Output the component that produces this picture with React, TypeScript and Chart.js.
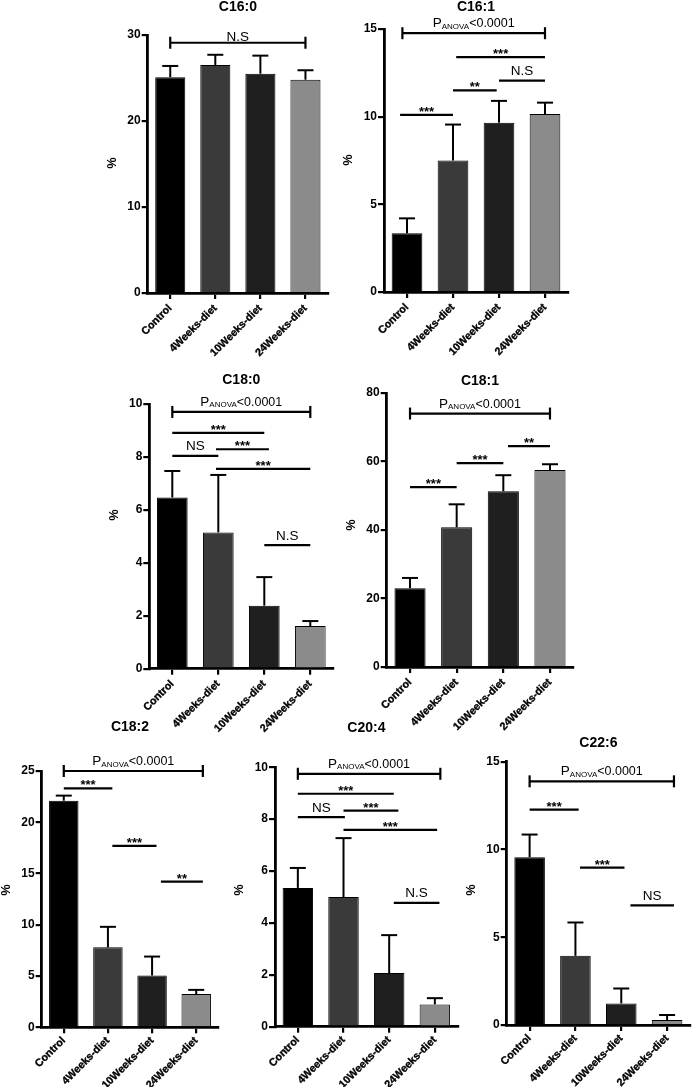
import React, { useEffect, useRef } from 'react';
import { Chart, registerables } from 'chart.js';
Chart.register(...registerables);

const categories = ['Control', '4Weeks-diet', '10Weeks-diet', '24Weeks-diet'];
const barColors = ['#000000', '#3a3a3a', '#1f1f1f', '#8b8b8b'];

const c160Mean = [25.1, 26.5, 25.5, 24.8];
const c160Sd = [1.3, 1.2, 2.1, 1.1];
const c161Mean = [3.35, 7.5, 9.65, 10.15];
const c161Sd = [0.85, 2.05, 1.25, 0.65];
const c180Mean = [6.47, 5.15, 2.38, 1.61];
const c180Sd = [1.0, 2.17, 1.08, 0.19];
const c181Mean = [23, 40.8, 51.3, 57.5];
const c181Sd = [3.0, 6.7, 4.7, 1.7];
const c182Mean = [22.1, 7.8, 5.05, 3.25];
const c182Sd = [0.5, 2.0, 1.85, 0.4];
const c204Mean = [5.35, 5.0, 2.07, 0.86];
const c204Sd = [0.77, 2.27, 1.46, 0.24];
const c226Mean = [9.56, 3.94, 1.23, 0.28];
const c226Sd = [1.29, 1.9, 0.85, 0.29];

const c160Brackets = [{ from: 0, to: 3, y: 29.1, label: 'N.S', kind: 'ns', caps: true, lift: 1.5 }];
const c161Brackets = [
  { from: -0.1, to: 3, y: 14.76, label: '<0.0001', kind: 'anova', caps: true },
  { from: -0.15, to: 1, y: 10.1, label: '***', kind: 'star' },
  { from: 1, to: 1.95, y: 11.5, label: '**', kind: 'star' },
  { from: 1.07, to: 3, y: 13.4, label: '***', kind: 'star' },
  { from: 2, to: 3, y: 12.05, label: 'N.S', kind: 'ns' },
];
const c180Brackets = [
  { from: 0, to: 3, y: 9.7, label: '<0.0001', kind: 'anova', caps: true },
  { from: 0, to: 2, y: 8.91, label: '***', kind: 'star' },
  { from: 0, to: 1, y: 8.04, label: 'NS', kind: 'ns' },
  { from: 0.95, to: 2.1, y: 8.29, label: '***', kind: 'star' },
  { from: 0.95, to: 3, y: 7.55, label: '***', kind: 'star' },
  { from: 2, to: 3, y: 4.67, label: 'N.S', kind: 'ns' },
];
const c181Brackets = [
  { from: 0, to: 3, y: 74, label: '<0.0001', kind: 'anova', caps: true },
  { from: 0, to: 1, y: 52.5, label: '***', kind: 'star' },
  { from: 1, to: 2, y: 59.5, label: '***', kind: 'star' },
  { from: 2.1, to: 3, y: 64.5, label: '**', kind: 'star' },
];
const c182Brackets = [
  { from: 0, to: 3.15, y: 25, label: '<0.0001', kind: 'anova', caps: true },
  { from: 0, to: 1.1, y: 23.3, label: '***', kind: 'star' },
  { from: 1.1, to: 2.1, y: 17.7, label: '***', kind: 'star' },
  { from: 2.2, to: 3.15, y: 14.2, label: '**', kind: 'star' },
];
const c204Brackets = [
  { from: 0, to: 3.12, y: 9.75, label: '<0.0001', kind: 'anova', caps: true },
  { from: 0, to: 2.1, y: 8.98, label: '***', kind: 'star' },
  { from: 0, to: 1.03, y: 8.08, label: 'NS', kind: 'ns' },
  { from: 1, to: 2.2, y: 8.33, label: '***', kind: 'star' },
  { from: 1, to: 3.05, y: 7.59, label: '***', kind: 'star' },
  { from: 2.1, to: 3.1, y: 4.77, label: 'N.S', kind: 'ns' },
];
const c226Brackets = [
  { from: 0, to: 3.15, y: 13.88, label: '<0.0001', kind: 'anova', caps: true },
  { from: 0, to: 1.07, y: 12.27, label: '***', kind: 'star' },
  { from: 1.1, to: 2.07, y: 8.96, label: '***', kind: 'star' },
  { from: 2.2, to: 3.15, y: 6.82, label: 'NS', kind: 'ns' },
];

const FONT = "'Liberation Sans', Arial, Helvetica, sans-serif";

const panels = [
  { title: 'C16:0', mean: c160Mean, sd: c160Sd, yMax: 30, step: 10, brackets: c160Brackets,
    box: { left: 95, top: 0, width: 240, height: 365, yw: 52.7, pt: 35, pr: 7, xh: 72, tp: 3 }, titleY: 7, pctY: 163 },
  { title: 'C16:1', mean: c161Mean, sd: c161Sd, yMax: 15, step: 5, brackets: c161Brackets,
    box: { left: 335, top: 0, width: 240, height: 365, yw: 49, pt: 29, pr: 7, xh: 73, tp: 3 }, titleY: 7, pctY: 160 },
  { title: 'C18:0', mean: c180Mean, sd: c180Sd, yMax: 10, step: 2, brackets: c180Brackets,
    box: { left: 95, top: 365, width: 245, height: 370, yw: 54.3, pt: 39, pr: 6.7, xh: 66.3, tp: 3 }, titleY: 380, pctY: 515 },
  { title: 'C18:1', mean: c181Mean, sd: c181Sd, yMax: 80, step: 20, brackets: c181Brackets,
    box: { left: 340, top: 365, width: 240, height: 370, yw: 46.7, pt: 28, pr: 6.7, xh: 68, tp: 3 }, titleY: 381, pctY: 525 },
  { title: 'C18:2', mean: c182Mean, sd: c182Sd, yMax: 25, step: 5, brackets: c182Brackets,
    box: { left: 0, top: 715, width: 228, height: 372, yw: 41.7, pt: 56, pr: 9.7, xh: 59.7, tp: 1 }, titleY: 727, pctY: 890 },
  { title: 'C20:4', mean: c204Mean, sd: c204Sd, yMax: 10, step: 2, brackets: c204Brackets,
    box: { left: 230, top: 715, width: 235, height: 372, yw: 45, pt: 52.3, pr: 7.3, xh: 60.3, tp: 1 }, titleY: 728, pctY: 890 },
  { title: 'C22:6', mean: c226Mean, sd: c226Sd, yMax: 15, step: 5, brackets: c226Brackets,
    box: { left: 462, top: 715, width: 230, height: 372, yw: 44.7, pt: 46.7, pr: 2, xh: 62, tp: 1 }, titleY: 743, pctY: 890 },
];

function line(ctx: CanvasRenderingContext2D, x1: number, y1: number, x2: number, y2: number) {
  ctx.beginPath();
  ctx.moveTo(x1, y1);
  ctx.lineTo(x2, y2);
  ctx.stroke();
}

function makePlugin(p: any) {
  return {
    id: 'annot',
    afterDraw(chart: any) {
      const ctx: CanvasRenderingContext2D = chart.ctx;
      const xs = chart.scales.x;
      const ys = chart.scales.y;
      const area = chart.chartArea;
      ctx.save();
      ctx.strokeStyle = '#000';
      ctx.fillStyle = '#000';
      ctx.lineWidth = 2;
      ctx.lineCap = 'butt';
      // error bars
      p.mean.forEach((m: number, i: number) => {
        const x = xs.getPixelForValue(i);
        const y0 = ys.getPixelForValue(m);
        const y1 = ys.getPixelForValue(m + p.sd[i]);
        line(ctx, x, y0, x, y1);
        line(ctx, x - 8, y1, x + 8, y1);
      });
      // brackets
      p.brackets.forEach((b: any) => {
        const x1 = xs.getPixelForValue(b.from);
        const x2 = xs.getPixelForValue(b.to);
        const y = ys.getPixelForValue(b.y);
        const cx = (x1 + x2) / 2;
        ctx.lineWidth = 2.2;
        line(ctx, x1, y, x2, y);
        if (b.caps) {
          line(ctx, x1, y - 6, x1, y + 6);
          line(ctx, x2, y - 6, x2, y + 6);
        }
        ctx.textBaseline = 'alphabetic';
        if (b.kind === 'star') {
          ctx.font = `bold 13px ${FONT}`;
          ctx.textAlign = 'center';
          ctx.fillText(b.label, cx, y + 1);
        } else if (b.kind === 'ns') {
          ctx.font = `13.5px ${FONT}`;
          ctx.textAlign = 'center';
          ctx.fillText(b.label, cx, y - (b.lift !== undefined ? b.lift : 5.5));
        } else if (b.kind === 'anova') {
          ctx.textAlign = 'left';
          const fP = `13.5px ${FONT}`;
          const fS = `8px ${FONT}`;
          const fR = `12.5px ${FONT}`;
          ctx.font = fP; const wP = ctx.measureText('P').width;
          ctx.font = fS; const wS = ctx.measureText('ANOVA').width;
          ctx.font = fR; const wR = ctx.measureText(b.label).width;
          let x = cx - (wP + wS + wR) / 2;
          const base = y - 6;
          ctx.font = fP; ctx.fillText('P', x, base); x += wP;
          ctx.font = fS; ctx.fillText('ANOVA', x, base + 1.5); x += wS;
          ctx.font = fR; ctx.fillText(b.label, x, base);
        }
      });
      // title
      const top = p.box.top;
      ctx.font = `bold 14px ${FONT}`;
      ctx.textAlign = 'center';
      ctx.textBaseline = 'middle';
      ctx.fillText(p.title, (area.left + area.right) / 2, p.titleY - top);
      // y label
      ctx.save();
      ctx.translate(area.left - 35, p.pctY - top);
      ctx.rotate(-Math.PI / 2);
      ctx.font = `bold 12.5px ${FONT}`;
      ctx.textAlign = 'center';
      ctx.textBaseline = 'middle';
      ctx.fillText('%', 0, 0);
      ctx.restore();
      ctx.restore();
    },
  };
}

function Panel({ p }: { p: any }) {
  const ref = useRef<HTMLCanvasElement | null>(null);
  useEffect(() => {
    const b = p.box;
    const chart = new Chart(ref.current as HTMLCanvasElement, {
      type: 'bar',
      data: {
        labels: categories,
        datasets: [
          {
            data: p.mean,
            backgroundColor: barColors,
            borderColor: '#000',
            borderWidth: 1,
            barPercentage: 0.667,
            categoryPercentage: 1,
          },
        ],
      },
      options: {
        animation: false,
        responsive: false,
        devicePixelRatio: 1,
        layout: { padding: { top: b.pt, right: b.pr, left: 0, bottom: 0 } },
        plugins: { legend: { display: false }, tooltip: { enabled: false }, title: { display: false } },
        scales: {
          x: {
            grid: { display: true, drawOnChartArea: false, drawTicks: true, tickLength: 6, color: '#000', lineWidth: 2.2, offset: false },
            border: { display: true, color: '#000', width: 2.8 },
            ticks: {
              color: '#000',
              font: { family: FONT, size: 10.7, weight: 'bold' },
              textStrokeColor: '#000',
              textStrokeWidth: 0.35,
              minRotation: 45,
              maxRotation: 45,
              autoSkip: false,
              padding: b.tp,
            },
            afterFit: (s: any) => { s.height = b.xh; },
          },
          y: {
            min: 0,
            max: p.yMax,
            grid: { display: true, drawOnChartArea: false, drawTicks: true, tickLength: 6, color: '#000', lineWidth: 2.2 },
            border: { display: true, color: '#000', width: 2.8 },
            ticks: {
              stepSize: p.step,
              color: '#000',
              font: { family: FONT, size: 12, weight: 'bold' },
              padding: 1,
            },
            afterFit: (s: any) => { s.width = b.yw; },
          },
        },
      } as any,
      plugins: [makePlugin(p)],
    });
    return () => chart.destroy();
  }, []);
  const b = p.box;
  return (
    <canvas
      ref={ref}
      width={b.width}
      height={b.height}
      style={{ position: 'absolute', left: b.left, top: b.top, width: b.width, height: b.height }}
    />
  );
}

export default function App() {
  return (
    <div style={{ position: 'absolute', left: 0, top: 0, width: 692, height: 1087, background: '#fff', overflow: 'hidden' }}>
      {panels.map((p) => (
        <Panel key={p.title} p={p} />
      ))}
    </div>
  );
}
